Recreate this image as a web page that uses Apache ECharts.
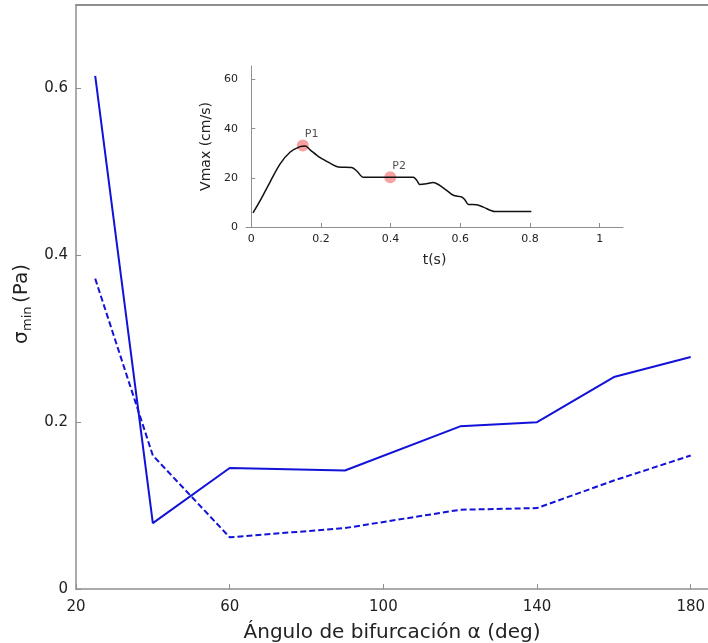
<!DOCTYPE html>
<html>
<head>
<meta charset="utf-8">
<script src="https://cdn.jsdelivr.net/npm/echarts@6/dist/echarts.min.js"></script>
<style>
html,body{margin:0;padding:0;background:#fff;}
#chart{width:708px;height:643px;}
</style>
</head>
<body>
<div id="chart"></div>
<script>
// Bifurcation angle (deg) and minimum wall shear stress (Pa)
const angles = [25, 40, 60, 90, 120, 140, 160, 180];
const sigmaSolid = [0.615, 0.079, 0.145, 0.142, 0.195, 0.200, 0.254, 0.278];
const sigmaDashed = [0.372, 0.160, 0.062, 0.073, 0.095, 0.097, 0.130, 0.160];

// Inflow waveform: time (s) and peak velocity (cm/s)
const tWave = [0.005, 0.026, 0.054, 0.083, 0.112, 0.140, 0.155, 0.169, 0.198, 0.226, 0.250, 0.288, 0.303, 0.322,
  0.400, 0.465, 0.475, 0.484, 0.503, 0.522, 0.537, 0.561, 0.580, 0.604, 0.613, 0.623, 0.647, 0.666, 0.699, 0.804];
const vWave = [5.7, 10.8, 18.3, 25.7, 30.5, 32.7, 33.0, 31.4, 28.2, 26.0, 24.4, 24.2, 22.8, 20.2,
  20.2, 20.2, 19.0, 17.3, 17.6, 18.1, 17.3, 14.9, 12.9, 12.2, 11.1, 9.2, 9.1, 8.1, 6.3, 6.3];

// Marked instants on the waveform
const markNames = ['P1', 'P2'];
const markT = [0.148, 0.399];
const markV = [33.2, 20.2];

const mainTicksX = [20, 60, 100, 140, 180];
const insetTicksX = [0, 0.2, 0.4, 0.6, 0.8, 1];

const FONT = 'DejaVu Sans';
const AXIS_GRAY = '#8f8f8f';
const TEXT = '#222';
const BLUE = '#1212d8';

const chart = echarts.init(document.getElementById('chart'), null, {renderer: 'canvas'});

const option = {
  animation: false,
  backgroundColor: '#fff',
  textStyle: {fontFamily: FONT},
  grid: [
    {left: 76, top: 5, right: 0, bottom: 54, outerBoundsMode: 'none'},
    {left: 246, top: 66, width: 377, height: 161, outerBoundsMode: 'none'}
  ],
  xAxis: [
    {
      type: 'value', gridIndex: 0, min: 20, max: 184.5,
      axisLine: {lineStyle: {color: AXIS_GRAY, width: 1.5}},
      axisTick: {show: true, inside: true, length: 5, customValues: mainTicksX, lineStyle: {color: AXIS_GRAY}},
      axisLabel: {color: TEXT, fontSize: 15, fontFamily: FONT, margin: 11, customValues: mainTicksX},
      splitLine: {show: false},
      name: 'Ángulo de bifurcación α (deg)', nameLocation: 'middle', nameGap: 34,
      nameTextStyle: {color: TEXT, fontSize: 20, fontFamily: FONT}
    },
    {
      type: 'value', gridIndex: 0, position: 'top', min: 20, max: 184.5,
      axisLine: {show: true, onZero: false, lineStyle: {color: AXIS_GRAY, width: 2}},
      axisTick: {show: false}, axisLabel: {show: false}, splitLine: {show: false}
    },
    {
      type: 'value', gridIndex: 1, min: -0.015, max: 1.067,
      axisLine: {lineStyle: {color: AXIS_GRAY, width: 1}},
      axisTick: {show: true, inside: true, length: 4, customValues: insetTicksX, lineStyle: {color: AXIS_GRAY}},
      axisLabel: {color: TEXT, fontSize: 11, fontFamily: FONT, margin: 7, customValues: insetTicksX,
        formatter: v => String(Math.round(v * 10) / 10)},
      splitLine: {show: false},
      name: 't(s)', nameLocation: 'middle', nameGap: 26,
      nameTextStyle: {color: TEXT, fontSize: 14, fontFamily: FONT}
    }
  ],
  yAxis: [
    {
      type: 'value', gridIndex: 0, min: 0, max: 0.7, interval: 0.2,
      axisLine: {show: true, lineStyle: {color: AXIS_GRAY, width: 1.5}},
      axisTick: {show: true, inside: true, length: 5, lineStyle: {color: AXIS_GRAY}},
      axisLabel: {color: TEXT, fontSize: 15, fontFamily: FONT, margin: 8, showMaxLabel: false},
      splitLine: {show: false}
    },
    {
      type: 'value', gridIndex: 1, min: 0, max: 65.5, interval: 20,
      axisLine: {show: true, lineStyle: {color: AXIS_GRAY, width: 1}},
      axisTick: {show: true, inside: true, length: 4, lineStyle: {color: AXIS_GRAY}},
      axisLabel: {color: TEXT, fontSize: 11, fontFamily: FONT, margin: 8, showMaxLabel: false},
      splitLine: {show: false},
      name: 'Vmax (cm/s)', nameLocation: 'middle', nameGap: 32, nameRotate: 90,
      nameTextStyle: {color: TEXT, fontSize: 14, fontFamily: FONT}
    }
  ],
  graphic: [
    {
      type: 'group', x: 22, y: 298, rotation: Math.PI / 2,
      children: [
        {type: 'text', x: -46, y: 0, style: {text: 'σ', font: '20px "DejaVu Sans"', fill: TEXT, textVerticalAlign: 'middle', textAlign: 'left'}},
        {type: 'text', x: -33, y: 6, style: {text: 'min', font: '13px "DejaVu Sans"', fill: TEXT, textVerticalAlign: 'middle', textAlign: 'left'}},
        {type: 'text', x: -5, y: 0, style: {text: '(Pa)', font: '20px "DejaVu Sans"', fill: TEXT, textVerticalAlign: 'middle', textAlign: 'left'}}
      ]
    }
  ],
  series: [
    {
      type: 'line', xAxisIndex: 0, yAxisIndex: 0, symbol: 'none',
      data: angles.map((a, i) => [a, sigmaSolid[i]]),
      lineStyle: {color: BLUE, width: 2}
    },
    {
      type: 'line', xAxisIndex: 0, yAxisIndex: 0, symbol: 'none',
      data: angles.map((a, i) => [a, sigmaDashed[i]]),
      lineStyle: {color: BLUE, width: 2, type: [6, 3]}
    },
    {
      type: 'line', xAxisIndex: 2, yAxisIndex: 1, symbol: 'none', smooth: 0.3,
      data: tWave.map((t, i) => [t, vWave[i]]),
      lineStyle: {color: '#111', width: 1.5}
    },
    {
      type: 'scatter', xAxisIndex: 2, yAxisIndex: 1, symbolSize: 12,
      data: markT.map((t, i) => ({value: [t, markV[i]], name: markNames[i]})),
      itemStyle: {color: 'rgba(240, 75, 75, 0.65)'},
      label: {show: true, formatter: p => p.name, position: [8, -11], color: TEXT, fontSize: 11, fontFamily: FONT}
    }
  ]
};

chart.setOption(option);
</script>
</body>
</html>
